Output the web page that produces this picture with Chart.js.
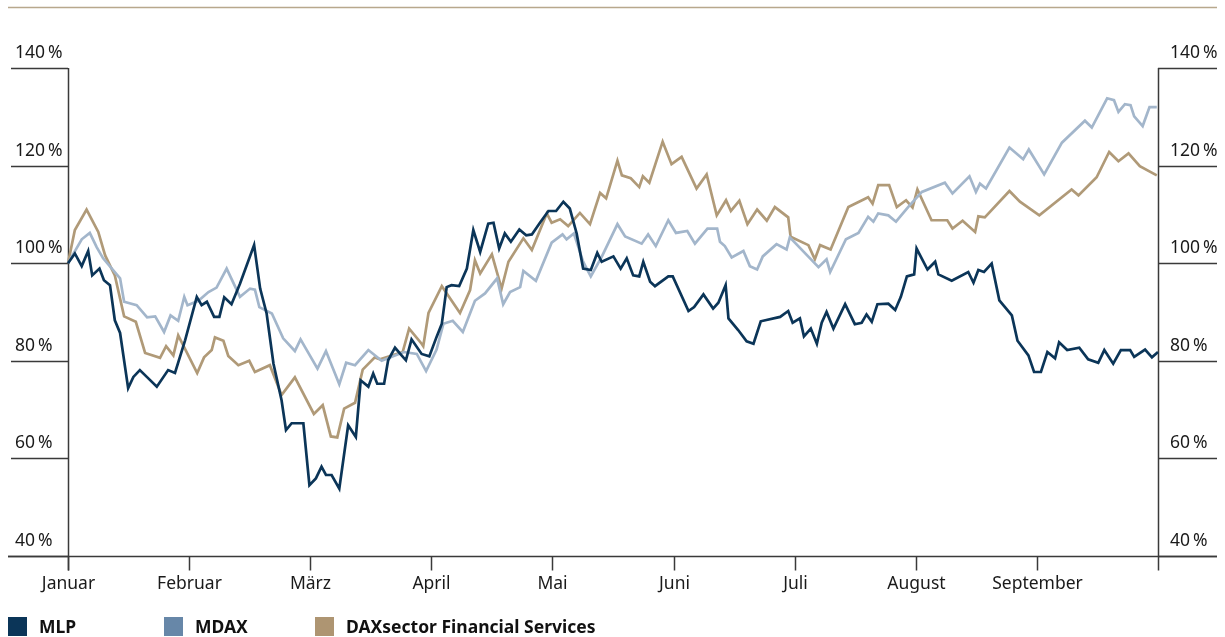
<!DOCTYPE html>
<html>
<head>
<meta charset="utf-8">
<script src="https://cdn.jsdelivr.net/npm/chart.js@4"></script>
<style>
  html, body { margin: 0; padding: 0; background: #fff; }
  canvas { display: block; }
</style>
</head>
<body>
<canvas id="perfChart" width="1225" height="637"></canvas>
<script>
// x values are days, each month counted as 30 days (Januar = 0 ... end of September = 270)
const monthLabels = ["Januar", "Februar", "März", "April", "Mai", "Juni", "Juli", "August", "September"];
const monthStarts = [0, 30, 60, 90, 120, 150, 180, 210, 240];
const yTicks = [40, 60, 80, 100, 120, 140];

const mlpDays = [0,1.7,3.4,5,6,7.8,8.9,10.4,11.6,12.9,14.9,16.2,17.8,19.9,22,24.8,26.5,29,31.9,33.1,
  34.4,36.2,37.5,38.7,40.5,42.6,46.1,47.6,49.2,50.9,52.9,54,55.4,58.3,59.8,61.4,62.8,63.9,65.3,67.2,
  69.4,71.3,72.5,74.4,75.6,76.6,78.3,79.3,81,82.2,83.7,85.1,87.6,89.5,91.3,92.6,93.8,95,96.9,98.8,
  100.4,102.1,104.1,105.4,106.8,108.2,109.7,111.8,113.5,114.9,116.9,119,120.9,122.7,124.3,126,127.6,129.5,131.1,132.2,
  135.1,136.9,138.4,140,141.5,142.5,144.2,145.4,148.7,149.8,153.7,155.1,157.4,159.8,161.1,162.9,163.6,166,168.1,169.8,
  171.6,176.4,178.4,179.5,181.3,182.3,184,185.5,186.7,187.9,189.6,192.5,194.9,196.6,197.8,199.1,200.5,203.2,204.9,206.3,
  207.8,209.6,210.2,212.9,214.8,215.6,218.9,223,224.3,225.5,226.9,228.8,230.7,233.8,235.2,237.9,239.3,241,242.6,244.5,
  245.5,247.5,250.5,252.7,255.2,256.7,258.9,260.8,263.1,264.1,266.8,268.5,270];
const mlpValues = [100,102.0,99.4,102.5,97.5,98.9,96.5,95.5,88.3,85.7,74.4,76.7,78.1,76.4,74.7,78.1,77.5,84.2,93.1,91.4,
  92.1,89.0,89.0,93.0,91.6,95.8,103.7,94.8,89.7,79.4,71.9,65.8,67.2,67.2,54.5,55.9,58.3,56.6,56.6,53.8,
  66.8,64.4,76.0,74.7,77.4,75.3,75.3,80.1,82.7,81.5,80.1,84.4,81.4,80.9,84.9,87.6,95.1,95.5,95.3,98.9,
  106.8,102.3,108.1,108.3,103.0,106.1,104.4,106.9,105.7,105.9,108.3,110.7,110.7,112.6,111.2,106.1,98.9,98.6,102.1,100.3,
  101.4,98.9,101.0,97.5,97.3,100.3,96.2,95.3,97.3,97.3,90.2,91.0,93.6,90.7,91.9,95.5,88.7,86.3,84.0,83.5,
  88.1,89.0,90.2,87.8,88.7,85.0,86.6,83.5,87.8,90.0,86.6,91.6,87.5,87.8,89.5,88.0,91.6,91.7,90.4,93.1,
  97.3,97.7,103.0,98.7,100.3,97.7,96.4,98.2,96.0,98.6,98.2,99.9,92.4,89.3,84.1,81.1,77.7,77.7,81.8,80.5,
  83.8,82.2,82.7,80.3,79.6,82.2,79.4,82.2,82.2,80.8,82.3,80.7,81.8];

const mdaxDays = [0,3.4,5.4,7.1,8.7,12.9,13.9,17.0,19.6,21.6,23.8,25.4,27.3,28.8,29.6,32.3,34.8,36.8,39.3,42.6,
  45.1,46.3,47.4,50.5,53.3,56.2,57.6,61.8,63.9,67.2,68.9,71.1,74.4,77.7,83.2,86.4,88.7,91.3,93.0,95.3,
  97.8,100.8,103.3,106.3,107.8,109.5,112.0,112.8,115.9,119.8,122.5,123.5,125.3,127.6,129.5,132.2,136.1,138.0,142.1,143.7,
  145.6,148.7,150.6,153.4,155.3,158.4,160.8,161.5,162.7,164.4,167.3,168.9,170.7,172.1,175.5,178.0,178.8,185.9,187.9,188.8,
  192.7,195.8,198.2,199.5,200.7,203.2,205.1,208.1,211.5,217.2,219.1,223.3,224.9,225.9,227.4,233.2,236.6,238.0,241.8,246.2,
  251.9,253.6,257.4,259.1,260.2,261.8,263.2,264.1,266.2,267.9,269.7];
const mdaxValues = [100,104.9,106.2,103.3,101.0,96.9,92.1,91.4,88.9,89.1,85.9,89.3,88.2,93.1,91.4,92.3,94.1,95.0,98.9,93.1,
  94.8,94.6,91.0,89.7,84.6,82.0,84.4,78.4,82.0,75.2,79.6,79.1,82.2,80.0,81.8,81.4,77.9,82.3,87.6,88.2,
  85.9,92.3,93.8,96.9,91.6,94.1,95.1,98.4,96.4,104.2,105.9,104.9,106.1,100.3,97.3,101.3,108.0,105.5,104.0,105.9,
  103.5,108.8,106.2,106.6,104.0,107.1,107.1,104.4,103.5,101.2,102.5,99.4,98.7,101.4,103.9,102.8,105.3,99.2,100.8,98.2,
  104.9,106.2,109.5,108.5,110.2,109.8,108.5,111.5,114.6,116.5,114.3,117.8,114.6,116.3,115.3,123.7,121.3,123.3,118.2,124.7,
  129.2,127.8,133.8,133.4,131.0,132.6,132.4,130.1,128.1,132.0,132.0];

const daxDays = [0,1.7,4.6,7.5,9.2,11.6,13.9,16.8,19.1,22.8,24.3,26.1,27.3,32.0,33.7,35.6,36.4,38.5,39.7,42.2,
  44.9,46.3,50.0,52.9,56.2,60.9,63.1,65.1,66.7,68.4,71.1,73.0,76.0,77.3,82.9,84.5,87.6,88.0,89.3,92.6,
  97.1,99.6,100.8,102.1,105.0,107.4,109.1,112.8,114.9,118.6,119.8,121.9,123.9,126.8,129.3,131.8,133.3,136.1,137.2,139.4,
  141.5,142.4,144.0,147.3,149.5,152.0,155.7,158.2,160.7,163.0,164.2,166.3,168.3,170.7,173.1,175.1,178.4,179.0,183.4,185.0,
  186.3,188.9,193.3,198.2,199.3,200.7,203.4,205.3,207.6,209.2,210.4,213.9,217.8,219.1,221.6,224.7,225.5,227.1,233.2,235.8,
  240.6,248.6,250.3,254.8,257.9,260.2,262.7,265.5,269.7];
const daxValues = [100,106.8,111.0,106.4,101.6,97.5,89.1,88.0,81.6,80.6,83.0,81.1,85.2,77.5,80.7,82.2,84.8,84.1,81.0,79.1,
  80.0,77.7,79.1,73.0,76.6,69.1,70.9,64.5,64.3,70.2,71.4,78.2,80.7,80.3,81.8,86.6,83.5,83.0,89.8,95.3,
  89.8,94.5,100.6,97.9,101.8,94.8,100.3,105.1,102.7,110.2,108.3,109.0,107.6,110.3,108.0,114.4,113.3,121.0,118.0,117.4,
  115.6,117.8,116.5,124.9,120.3,121.8,115.3,118.2,109.8,112.9,110.7,112.8,108.0,111.0,108.7,111.5,109.4,105.4,103.7,100.8,
  103.7,102.8,111.5,113.5,112.2,116.0,116.0,111.5,112.9,111.4,115.1,108.8,108.8,107.1,108.7,106.4,109.6,109.4,114.8,112.6,
  109.8,115.1,113.9,117.6,122.8,120.9,122.5,119.9,118.0];

const toPoints = (days, vals) => days.map((d, i) => ({ x: d, y: vals[i] }));

const legendItems = [
  { text: "MLP", color: "#0b3558", x: 8 },
  { text: "MDAX", color: "#6787a8", x: 164 },
  { text: "DAXsector Financial Services", color: "#ae9572", x: 315 },
];

const FONT = '"Noto Sans", "Open Sans", sans-serif';

// axes, stubs, labels and legend drawn off the chart's own scales
const framePlugin = {
  id: "frame",
  beforeDatasetsDraw(chart) {
    const { ctx, chartArea: a, scales: { x, y } } = chart;
    const yBottom = Math.round(y.getPixelForValue(40)) + 0.5;
    ctx.save();

    // tan rule at the top
    ctx.strokeStyle = "#b8a88d";
    ctx.lineWidth = 1.5;
    ctx.beginPath();
    ctx.moveTo(8, 7.5);
    ctx.lineTo(1217, 7.5);
    ctx.stroke();

    ctx.strokeStyle = "#3a3a3a";
    ctx.lineWidth = 1.5;
    ctx.fillStyle = "#1a1a1a";
    ctx.font = "17.5px " + FONT;
    ctx.textAlign = "left";
    ctx.textBaseline = "alphabetic";

    yTicks.forEach(v => {
      const py = Math.round(y.getPixelForValue(v)) + 0.5;
      ctx.beginPath();
      ctx.moveTo(v === 40 ? 8 : 11, py);
      ctx.lineTo(a.left, py);
      ctx.moveTo(a.right, py);
      ctx.lineTo(1217, py);
      ctx.stroke();
      ctx.fillText(v + "\u2009%", 15, py - 11);
      ctx.fillText(v + "\u2009%", a.right + 12, py - 11);
    });

    // bottom axis
    ctx.beginPath();
    ctx.moveTo(8, yBottom);
    ctx.lineTo(1217, yBottom);
    ctx.stroke();

    // left and right axis lines
    const yTop = Math.round(y.getPixelForValue(140));
    [a.left, a.right].forEach(px => {
      ctx.beginPath();
      ctx.moveTo(Math.round(px) + 0.5, yTop);
      ctx.lineTo(Math.round(px) + 0.5, yBottom + 14);
      ctx.stroke();
    });

    // month ticks and labels
    ctx.textAlign = "center";
    monthStarts.forEach((d, i) => {
      const px = Math.round(x.getPixelForValue(d)) + 0.5;
      ctx.beginPath();
      ctx.moveTo(px, yBottom);
      ctx.lineTo(px, yBottom + 14);
      ctx.stroke();
      ctx.fillText(monthLabels[i], px, yBottom + 32);
    });

    // legend
    ctx.textAlign = "left";
    ctx.font = "bold 17.5px " + FONT;
    legendItems.forEach(it => {
      ctx.fillStyle = it.color;
      ctx.fillRect(it.x, 617, 19, 19);
      ctx.fillStyle = "#111";
      ctx.fillText(it.text, it.x + 31, 633);
    });

    ctx.restore();
  },
};

new Chart(document.getElementById("perfChart"), {
  type: "line",
  data: {
    datasets: [
      {
        label: "MLP",
        data: toPoints(mlpDays, mlpValues),
        borderColor: "#0b3558",
        borderWidth: 2.7,
        pointRadius: 0,
        tension: 0,
        clip: false,
      },
      {
        label: "MDAX",
        data: toPoints(mdaxDays, mdaxValues),
        borderColor: "#a3b6cb",
        borderWidth: 2.7,
        pointRadius: 0,
        tension: 0,
        clip: false,
      },
      {
        label: "DAXsector Financial Services",
        data: toPoints(daxDays, daxValues),
        borderColor: "#b09a78",
        borderWidth: 2.7,
        pointRadius: 0,
        tension: 0,
        clip: false,
      },
    ],
  },
  options: {
    responsive: false,
    animation: false,
    devicePixelRatio: 1,
    layout: {
      autoPadding: false,
      padding: { left: 68, right: 67, top: 68, bottom: 81 },
    },
    scales: {
      x: { type: "linear", min: 0, max: 270, display: false },
      y: { min: 40, max: 140, display: false },
    },
    plugins: {
      legend: { display: false },
      tooltip: { enabled: false },
    },
  },
  plugins: [framePlugin],
});
</script>
</body>
</html>
